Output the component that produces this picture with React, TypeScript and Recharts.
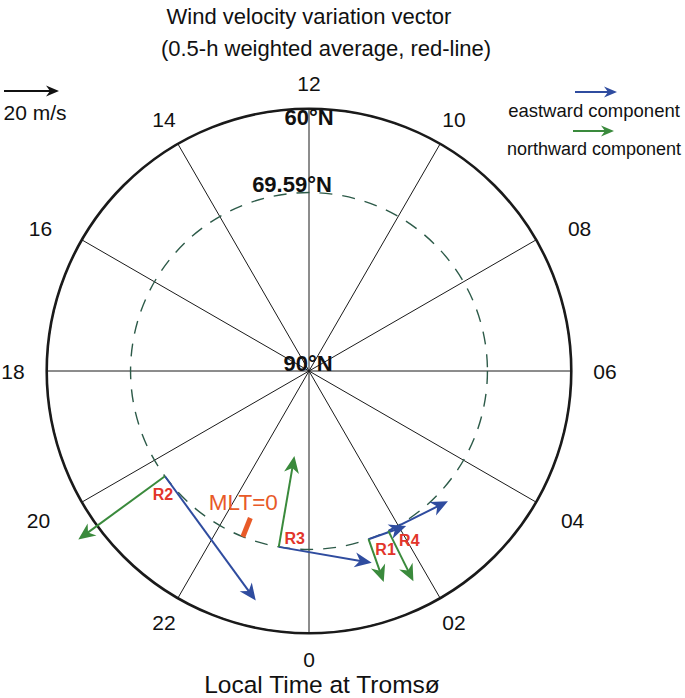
import { RadarChart, PolarGrid, PolarAngleAxis, ScatterChart, Scatter, XAxis, YAxis, ReferenceLine, ReferenceDot } from 'recharts'

// clock positions, clockwise from the top
const hourLabels = ['12', '10', '08', '06', '04', '02', '0', '22', '20', '18', '16', '14']

// stations: local time (h), latitude, wind components (m/s)
const stations = ['R1', 'R2', 'R3', 'R4']
const stationLT = [1.3, 20.41, 23.35, 1.76]
const stationLat = [69.59, 69.59, 69.59, 69.59]
const eastward = [14.5, 56, 34.3, 24.2]
const northward = [-16.5, -39, 33.5, -20.5]

const tromsoLat = 69.59
const rimLat = 60
const mltMidnightLT = 22.55
const mltBarLat = [71.9, 69.59]
const refSpeed = 20

const W = 685
const H = 698
const CX = 309
const CY = 371
const HALF = 306
const DOMAIN = 35
const PX = HALF / DOMAIN // px per degree colatitude
const VEL = 2.75 / PX // degrees per m/s
const FONT = '"Liberation Sans", Arial, Helvetica, sans-serif'

const BLUE = '#2f4c9f'
const GREEN = '#3a8a3c'
const RED = '#e2352a'
const ORANGE = '#e85a28'

const labelOffset: Record<string, [number, number]> = {
  R1: [17, 10],
  R2: [-2, 18],
  R3: [16, -8],
  R4: [21, 10],
}

// hand nudges for a few hour labels
const tickNudge: Record<string, [number, number]> = {
  '08': [16, 4],
  '16': [-14, 4],
  '04': [9, 2],
  '20': [-16, 2],
}

const toXY = (lt: number, lat: number) => {
  const a = (lt * Math.PI) / 12
  const c = 90 - lat
  return { x: c * Math.sin(a), y: -c * Math.cos(a) }
}

const hourData = hourLabels.map((hour) => ({ hour }))

const origins = stations.map((_, i) => toXY(stationLT[i], stationLat[i]))

const vectors = stations.flatMap((name, i) => {
  const a = (stationLT[i] * Math.PI) / 12
  const o = origins[i]
  const e = { x: o.x + eastward[i] * VEL * Math.cos(a), y: o.y + eastward[i] * VEL * Math.sin(a) }
  const n = { x: o.x - northward[i] * VEL * Math.sin(a), y: o.y + northward[i] * VEL * Math.cos(a) }
  return [
    { name, color: BLUE, from: o, to: e },
    { name, color: GREEN, from: o, to: n },
  ]
})

const shorten = (from: { x: number; y: number }, to: { x: number; y: number }, px: number) => {
  const dx = to.x - from.x
  const dy = to.y - from.y
  const len = Math.hypot(dx, dy) || 1
  const cut = px / PX
  return { x: to.x - (dx / len) * cut, y: to.y - (dy / len) * cut }
}

const heads = vectors.map((v) => ({
  x: v.to.x,
  y: v.to.y,
  color: v.color,
  ang: (Math.atan2(-(v.to.y - v.from.y), v.to.x - v.from.x) * 180) / Math.PI,
}))

const ArrowHead = (p: any) => {
  if (p.cx == null || p.cy == null) return null
  return (
    <polygon
      points="0,0 -17,-7.5 -12,0 -17,7.5"
      transform={`translate(${p.cx},${p.cy}) rotate(${p.payload.ang})`}
      fill={p.payload.color}
    />
  )
}

const HourTick = (p: any) => {
  const dx = p.x - CX
  const dy = p.y - CY
  const d = Math.hypot(dx, dy) || 1
  const s = dx / d
  const r = 288 + 8 * s * s
  const [nx, ny] = tickNudge[p.payload.value] || [0, 0]
  return (
    <text x={CX + (dx / d) * r + nx} y={CY + (dy / d) * r + ny} textAnchor="middle" dominantBaseline="central"
      fontSize={21} fontFamily={FONT} fill="#111">
      {p.payload.value}
    </text>
  )
}

const textShape = (txt: string, dx: number, dy: number, style: any) => (p: any) => (
  <text x={p.cx + dx} y={p.cy + dy} textAnchor="middle" dominantBaseline="central" fontFamily={FONT} {...style}>
    {txt}
  </text>
)

const latLabels = [
  { lat: rimLat, text: '60°N', dx: 0, dy: 9 },
  { lat: tromsoLat, text: '69.59°N', dx: -17, dy: -8 },
  { lat: 90, text: '90°N', dx: -1, dy: -8 },
]

const Arrow = ({ x1, x2, y, color }: { x1: number; x2: number; y: number; color: string }) => (
  <g>
    <line x1={x1} y1={y} x2={x2 - 8} y2={y} stroke={color} strokeWidth={2} />
    <polygon points={`${x2},${y} ${x2 - 13},${y - 5.5} ${x2 - 9},${y} ${x2 - 13},${y + 5.5}`} fill={color} />
  </g>
)

export default function App() {
  const refLen = refSpeed * VEL * PX
  const mltInner = toXY(mltMidnightLT, mltBarLat[0])
  const mltOuter = toXY(mltMidnightLT, mltBarLat[1])
  return (
    <div style={{ position: 'absolute', left: 0, top: 0, width: W, height: H, background: '#fff', fontFamily: FONT }}>
      <div style={{ position: 'absolute', left: 0, top: 0 }}>
        <RadarChart width={W} height={H} cx={CX} cy={CY} outerRadius={(90 - rimLat) * PX} data={hourData}
          margin={{ top: 0, right: 0, bottom: 0, left: 0 }}>
          <PolarGrid gridType="circle" polarRadius={[(90 - rimLat) * PX]} stroke="#1a1a1a" strokeWidth={1} />
          <PolarGrid gridType="circle" polarRadius={[(90 - rimLat) * PX]} radialLines={false} stroke="#1a1a1a" strokeWidth={2.6} />
          <PolarGrid gridType="circle" polarRadius={[(90 - tromsoLat) * PX]} radialLines={false} stroke="#2c5a48"
            strokeWidth={1.4} strokeDasharray="13 10" />
          <PolarAngleAxis dataKey="hour" tick={HourTick} tickLine={false} axisLine={false} />
        </RadarChart>
      </div>
      <div style={{ position: 'absolute', left: 0, top: 0 }}>
        <ScatterChart width={W} height={H} margin={{ top: CY - HALF, right: W - CX - HALF, bottom: H - CY - HALF, left: CX - HALF }}>
          <XAxis type="number" dataKey="x" domain={[-DOMAIN, DOMAIN]} allowDataOverflow hide />
          <YAxis type="number" dataKey="y" domain={[-DOMAIN, DOMAIN]} allowDataOverflow hide />
          {latLabels.map((l) => (
            <ReferenceDot key={l.text} x={0} y={toXY(12, l.lat).y} r={0} ifOverflow="visible"
              shape={textShape(l.text, l.dx, l.dy, { fontSize: 22, fontWeight: 700, fill: '#111' })} />
          ))}
          <ReferenceLine segment={[mltInner, mltOuter]} stroke={ORANGE} strokeWidth={5} ifOverflow="visible" />
          <ReferenceDot x={mltInner.x} y={mltInner.y} r={0} ifOverflow="visible"
            shape={textShape('MLT=0', -7, -15, { fontSize: 22.5, fill: ORANGE })} />
          {vectors.map((v, i) => (
            <ReferenceLine key={i} segment={[v.from, shorten(v.from, v.to, 10)]} stroke={v.color} strokeWidth={2} ifOverflow="visible" />
          ))}
          {stations.map((s, i) => (
            <ReferenceDot key={s} x={origins[i].x} y={origins[i].y} r={0} ifOverflow="visible"
              shape={textShape(s, labelOffset[s][0], labelOffset[s][1], { fontSize: 16, fontWeight: 700, fill: RED })} />
          ))}
          <Scatter data={heads} shape={ArrowHead} isAnimationActive={false} />
        </ScatterChart>
      </div>
      <svg width={W} height={H} style={{ position: 'absolute', left: 0, top: 0, pointerEvents: 'none' }} fontFamily={FONT}>
        <text x={309} y={16} textAnchor="middle" dominantBaseline="central" fontSize={22} fill="#111">
          Wind velocity variation vector
        </text>
        <text x={326} y={48} textAnchor="middle" dominantBaseline="central" fontSize={22} fill="#111">
          (0.5-h weighted average, red-line)
        </text>
        <Arrow x1={4} x2={4 + refLen} y={91} color="#111" />
        <text x={35} y={112} textAnchor="middle" dominantBaseline="central" fontSize={21} fill="#111">
          20 m/s
        </text>
        <Arrow x1={575} x2={617} y={92} color={BLUE} />
        <text x={594} y={110} textAnchor="middle" dominantBaseline="central" fontSize={18.5} fill="#111">
          eastward component
        </text>
        <Arrow x1={573} x2={614} y={131} color={GREEN} />
        <text x={594} y={149} textAnchor="middle" dominantBaseline="central" fontSize={18} fill="#111">
          northward component
        </text>
        <text x={322} y={684} textAnchor="middle" dominantBaseline="central" fontSize={24.5} fill="#111">
          Local Time at Tromsø
        </text>
      </svg>
    </div>
  )
}
